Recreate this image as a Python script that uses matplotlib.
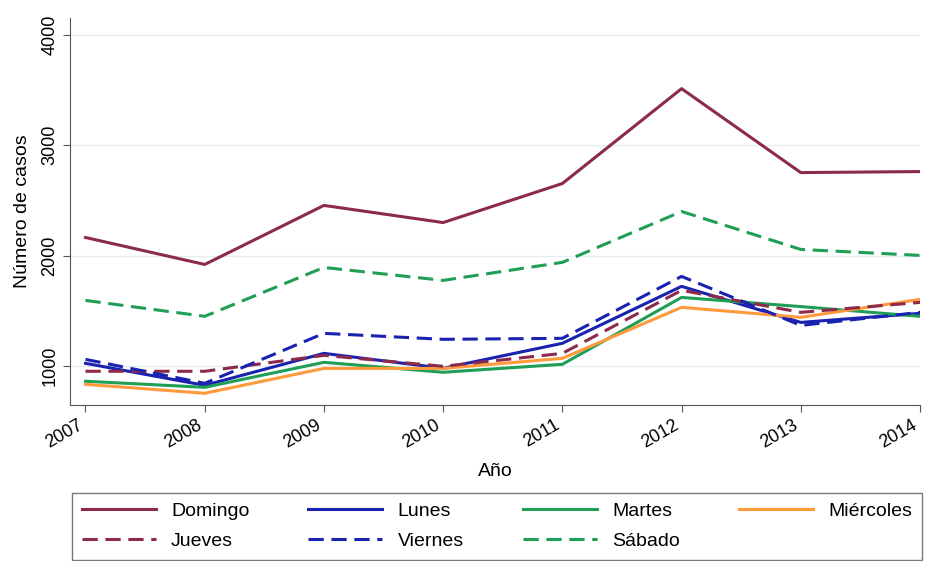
import matplotlib
matplotlib.use("Agg")
import matplotlib.pyplot as plt

plt.rcParams['font.family'] = ['Liberation Sans', 'DejaVu Sans']

years = [2007, 2008, 2009, 2010, 2011, 2012, 2013, 2014]
domingo   = [2165, 1921, 2455, 2300, 2653, 3511, 2752, 2761]
lunes     = [1027, 828, 1117, 982, 1208, 1723, 1397, 1479]
martes    = [865, 810, 1036, 946, 1018, 1623, 1540, 1452]
miercoles = [837, 756, 981, 981, 1072, 1533, 1443, 1605]
jueves    = [955, 955, 1099, 1000, 1117, 1687, 1488, 1578]
viernes   = [1063, 846, 1298, 1244, 1253, 1813, 1370, 1488]
sabado    = [1596, 1452, 1894, 1777, 1940, 2400, 2057, 2003]

series = [
    ("Domingo", domingo, "#8c2a4b", "-"),
    ("Lunes", lunes, "#1a22b0", "-"),
    ("Martes", martes, "#1f9e55", "-"),
    ("Miércoles", miercoles, "#ff9a3c", "-"),
    ("Jueves", jueves, "#8c2a4b", "--"),
    ("Viernes", viernes, "#1a22b0", "--"),
    ("Sábado", sabado, "#1f9e55", "--"),
]

fig = plt.figure(figsize=(9.25, 5.61), dpi=100)
ax = fig.add_axes([70/925, 1-405/561, 850/925, 387/561])

handles = {}
for name, vals, col, ls in series:
    ln, = ax.plot(years, vals, color=col, linestyle='-', linewidth=2.2, label=name)
    if ls == "--":
        ln.set_dashes((5, 2.5))
    handles[name] = ln

ax.set_xlim(2006.87, 2014)
ax.set_ylim(650, 4150)
ax.set_yticks([1000, 2000, 3000, 4000])
ax.set_xticks(years)
ax.set_xticklabels([str(y) for y in years], rotation=30, ha='right', fontsize=13)
for lab in ax.get_yticklabels():
    lab.set_rotation(90)
    lab.set_va('center')
    lab.set_fontsize(13)
ax.tick_params(axis='both', direction='out', length=5, color='#555555')
ax.grid(axis='y', color='#e3eef2', linewidth=1.0)
ax.set_axisbelow(True)
for s in ['top', 'right']:
    ax.spines[s].set_visible(False)
for s in ['left', 'bottom']:
    ax.spines[s].set_color('#555555')
ax.set_xlabel("Año", fontsize=14, labelpad=8)
ax.set_ylabel("Número de casos", fontsize=14, labelpad=7)

order = ["Domingo", "Jueves", "Lunes", "Viernes", "Martes", "Sábado", "Miércoles"]
leg = fig.legend([handles[n] for n in order], order, ncol=4,
                 loc='lower left', bbox_to_anchor=(72/925, 1/561, 850/925, 68/561),
                 mode='expand', fontsize=14, handlelength=3.8, handletextpad=0.8,
                 frameon=True, fancybox=False, edgecolor='#555555',
                 borderaxespad=0.0, labelspacing=0.65, borderpad=0.5)
leg.get_frame().set_linewidth(1.0)

fig.savefig("out.png", dpi=100)
